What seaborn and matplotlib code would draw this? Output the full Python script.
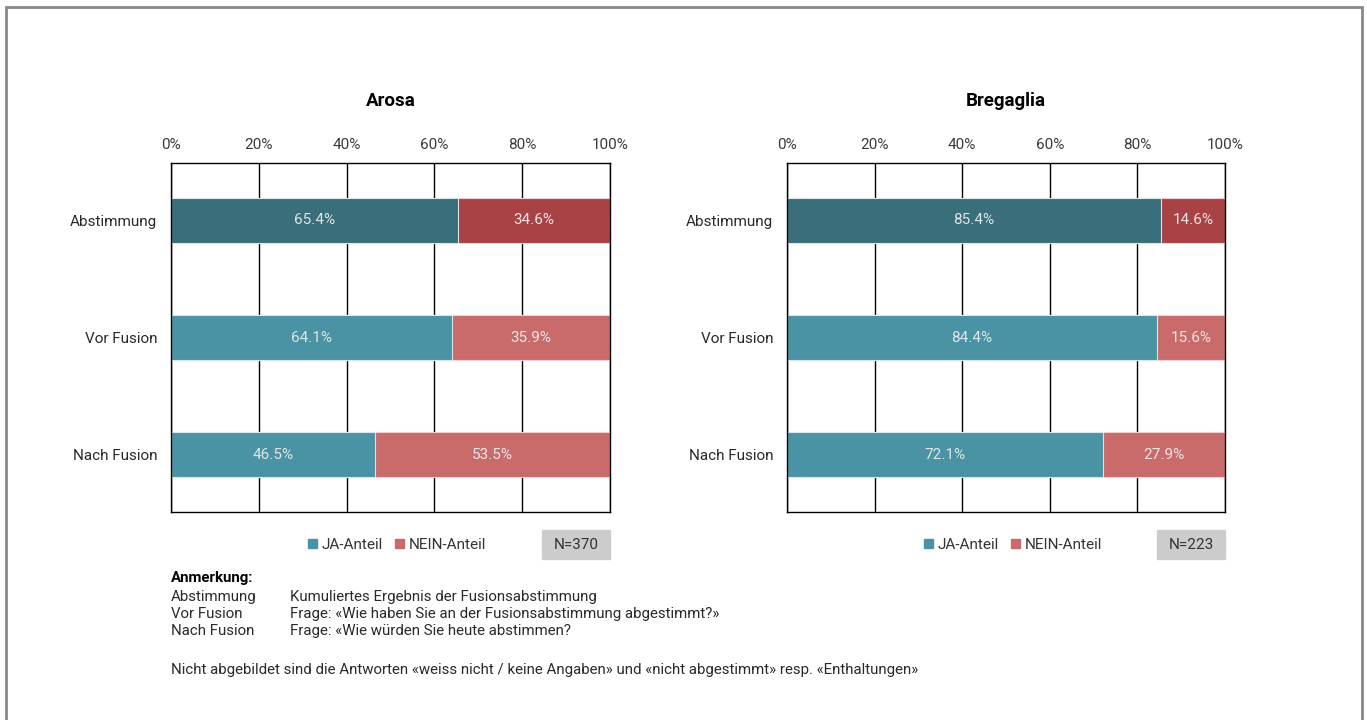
import pandas as pd
import matplotlib
matplotlib.use("Agg")
import matplotlib.pyplot as plt
import seaborn as sns
from matplotlib.patches import Rectangle, Patch

# -------------------------
# Data
# -------------------------
categories = ["Abstimmung", "Vor Fusion", "Nach Fusion"]
gemeinden = ["Arosa", "Bregaglia"]
ja_arosa = [65.4, 64.1, 46.5]
nein_arosa = [34.6, 35.9, 53.5]
ja_bregaglia = [85.4, 84.4, 72.1]
nein_bregaglia = [14.6, 15.6, 27.9]
n_values = [370, 223]
xticks = [0, 20, 40, 60, 80, 100]

ja_colors = ["#396e7a", "#4a93a5", "#4a93a5"]
nein_colors = ["#a94245", "#c96b6b", "#c96b6b"]

sns.set_theme(style="white")
plt.rcParams['font.family'] = ['Roboto', 'DejaVu Sans']

fig = plt.figure(figsize=(13.67, 7.2), dpi=100)
W, H = 1367, 720

def px_axes(x0, y0, x1, y1):
    return fig.add_axes([x0 / W, 1 - y1 / H, (x1 - x0) / W, (y1 - y0) / H])

ax_left = px_axes(171, 163, 610, 512)
ax_right = px_axes(787, 163, 1225, 512)

data = {
    "Arosa": (ja_arosa, nein_arosa),
    "Bregaglia": (ja_bregaglia, nein_bregaglia),
}

for ax, name, n in zip([ax_left, ax_right], gemeinden, n_values):
    ja, nein = data[name]
    df = pd.DataFrame({"Kategorie": categories, "JA": ja, "NEIN": nein})
    df["Total"] = df["JA"] + df["NEIN"]

    # total bar (NEIN part visible) then JA bar on top
    sns.barplot(data=df, x="Total", y="Kategorie", ax=ax, orient="h",
                palette=nein_colors, hue="Kategorie", legend=False,
                width=0.39, edgecolor="#f0d0d0", linewidth=0.8, saturation=1)
    sns.barplot(data=df, x="JA", y="Kategorie", ax=ax, orient="h",
                palette=ja_colors, hue="Kategorie", legend=False,
                width=0.39, edgecolor="#d8e6ea", linewidth=0.8, saturation=1)

    for i, (j, nn) in enumerate(zip(ja, nein)):
        ax.text(j / 2, i, f"{j:.1f}%", ha="center", va="center",
                color="#e0e6e8", fontsize=11)
        ax.text(j + nn / 2, i, f"{nn:.1f}%", ha="center", va="center",
                color="#f0e4e4", fontsize=11)

    ax.set_xlim(0, 100)
    ax.set_ylim(2.49, -0.49)
    ax.set_xticks(xticks)
    ax.set_xticklabels([f"{t}%" for t in xticks])
    ax.xaxis.tick_top()
    ax.tick_params(axis="x", length=0, pad=8, labelsize=11, colors="#3a3a3a")
    ax.tick_params(axis="y", length=0, pad=10, labelsize=11, colors="#2a2a2a")
    ax.set_xlabel("")
    ax.set_ylabel("")
    ax.grid(axis="x", color="black", linewidth=1)
    ax.set_axisbelow(True)
    for s in ax.spines.values():
        s.set_visible(True)
        s.set_color("black")
        s.set_linewidth(1)
    ax.set_title(name, fontsize=13.5, fontweight="bold", pad=41, color="black")

# -------------------------
# Legends and N boxes
# -------------------------
handles = [Patch(color="#4a93a5", label="JA-Anteil"),
           Patch(color="#c96b6b", label="NEIN-Anteil")]
for cx, bx, n in [(397, 542, n_values[0]), (1013, 1157, n_values[1])]:
    leg = fig.legend(handles=handles, loc="center",
                     bbox_to_anchor=(cx / W, 1 - 545 / H),
                     ncol=2, frameon=False, fontsize=11, handlelength=0.6,
                     handleheight=0.6, handletextpad=0.3, columnspacing=0.8)
    for t in leg.get_texts():
        t.set_color("#333333")
    fig.patches.append(Rectangle((bx / W, 1 - 559 / H), 68 / W, 29 / H,
                                 transform=fig.transFigure, color="#cccccc",
                                 zorder=0))
    fig.text((bx + 34) / W, 1 - 545 / H, f"N={n}", ha="center", va="center",
             fontsize=11, color="#333333")

# -------------------------
# Notes
# -------------------------
fig.text(171 / W, 1 - 578 / H, "Anmerkung:", fontsize=10.8, fontweight="bold",
         va="center", color="black")
notes = [("Abstimmung", "Kumuliertes Ergebnis der Fusionsabstimmung"),
         ("Vor Fusion", "Frage: «Wie haben Sie an der Fusionsabstimmung abgestimmt?»"),
         ("Nach Fusion", "Frage: «Wie würden Sie heute abstimmen?")]
for k, (a, b) in enumerate(notes):
    y = 597 + k * 17
    fig.text(171 / W, 1 - y / H, a, fontsize=10.8, va="center", color="#2a2a2a")
    fig.text(290 / W, 1 - y / H, b, fontsize=10.8, va="center", color="#2a2a2a")
fig.text(171 / W, 1 - 670 / H,
         "Nicht abgebildet sind die Antworten «weiss nicht / keine Angaben» und "
         "«nicht abgestimmt» resp. «Enthaltungen»",
         fontsize=10.8, va="center", color="#2a2a2a")

# outer frame
fig.patches.append(Rectangle((6 / W, -0.01), 1356 / W, 1 - 7 / H + 0.01,
                             transform=fig.transFigure, fill=False,
                             edgecolor="#888888", linewidth=2, zorder=0))

fig.savefig("out.png", dpi=100)
